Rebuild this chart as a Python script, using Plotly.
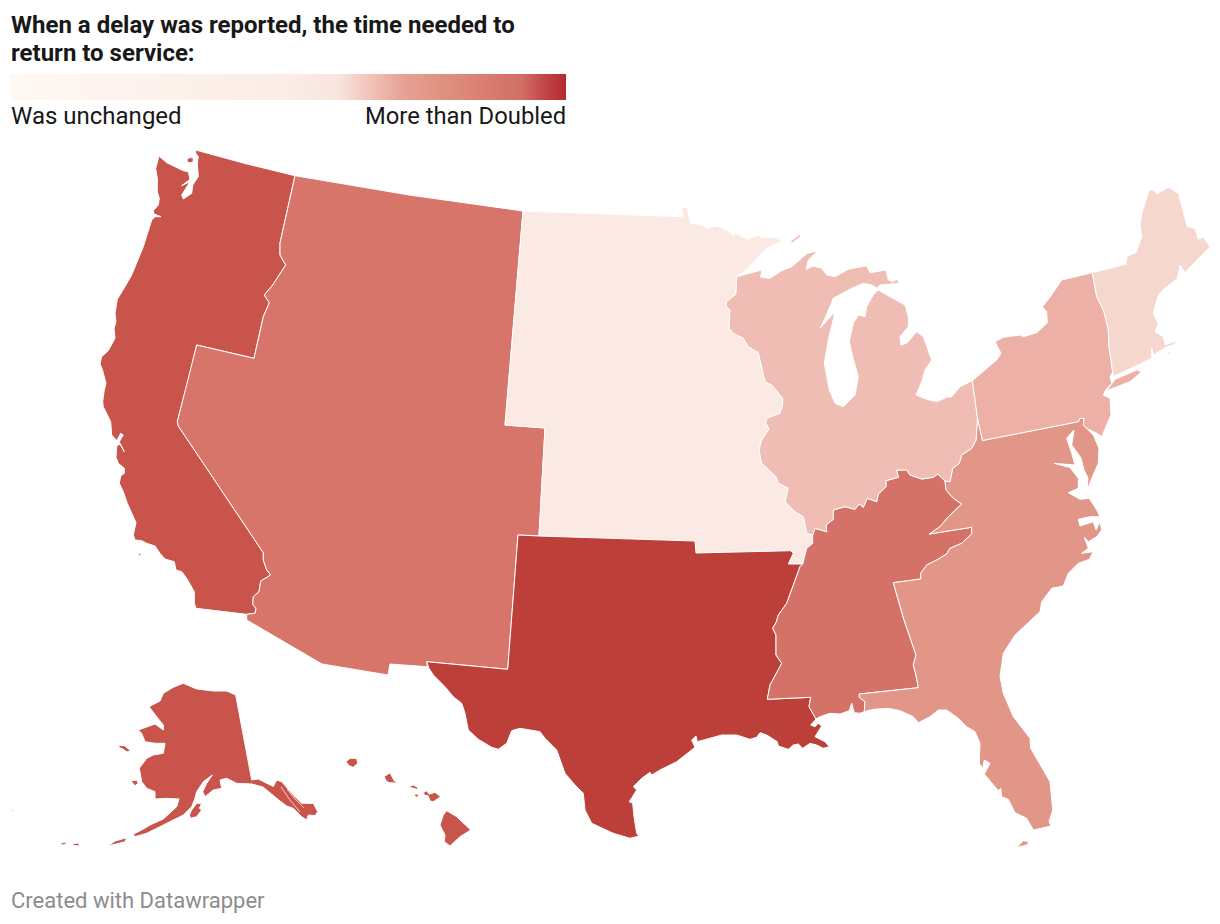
import plotly.graph_objects as go

# No topojson without network, so region outlines are traced by hand in page pixels.

# Shared borders, each read once and reused in both neighbours.
WA_NORTH = [(195.7, 150), (245, 163.5), (295, 175.7)]
MT_NORTH = [(295, 175.7), (409, 195), (523, 211)]
PAC_MTN = [(295, 175.7), (280, 243), (280, 255), (285.7, 265), (272.7, 285), (264.3, 295), (269.3, 302.7),
           (263.3, 316.7), (254, 358.3), (196.7, 345), (190.7, 370), (177.3, 421.7), (178.3, 426), (263.3, 552.7),
           (263.3, 560), (266.7, 570), (270.7, 575), (260.7, 581), (259, 591.7), (253.3, 596.7), (252.7, 604.3),
           (256, 608.3), (255, 613.3), (246.7, 614.3)]
MTN_WNC = [(523, 211), (505, 425), (545, 428), (539, 536)]
MTN_WSC = [(518, 535), (507.7, 669.3), (426.7, 661.7)]
MTN_SOUTH = [(427.3, 666.7), (390, 664), (388, 675), (322, 664), (246.7, 620), (246.7, 614.3)]
WNC_NORTH = [(523, 211), (682.3, 216.7), (682.3, 207.3), (687.3, 207.3), (690.7, 222.7), (705, 226), (706.7, 228.3),
             (716.7, 226), (725, 229.3), (731.7, 233.3), (733, 236), (735, 232.7), (748.3, 239.3), (758.3, 235),
             (761.7, 237.3), (773.3, 237.3), (782.7, 240.7), (766.7, 248.3), (758.3, 256.7), (748.3, 268.3),
             (736.7, 276.7)]
WNC_ENC = [(736.7, 276.7), (736, 294), (726.7, 301.7), (726, 306), (730, 310), (729, 328.3), (733.3, 333.3),
           (743.3, 338.3), (748.3, 346.7), (758.3, 352.7), (761.7, 368.3), (762.7, 371.7), (765, 381.7), (771.7, 385),
           (782.7, 398.3), (782.7, 405), (780, 413.3), (766.7, 418.3), (765.7, 422.7), (769, 429), (761.7, 440),
           (759, 450), (761.7, 463.3), (776, 476.7), (778.3, 483.3), (788.3, 488.3), (785, 501.7), (795, 511.7),
           (803.3, 516.7), (806.7, 533.3), (812.7, 535)]
WNC_WSC = [(802.7, 564), (788.3, 564), (793.3, 553.3), (790.7, 550.7), (696, 553), (695, 541), (539, 536), (518, 535)]
ESC_WNC = [(802.7, 564), (806.7, 548.3), (812.7, 543.3), (812.7, 535)]
ENC_ESC = [(812.7, 535), (815, 528.3), (826.7, 531.7), (826, 525), (833.3, 519.3), (833.3, 510), (845, 506.7),
           (855, 509.3), (859.3, 504), (863.3, 507.3), (867.3, 498.3), (876.7, 501.7), (878.3, 494), (886, 486.7),
           (886, 480.7), (898.3, 477.3), (896.7, 470), (906.7, 470), (910, 475), (921.7, 479), (933.3, 477.3),
           (937.7, 474), (945, 481)]
ENC_SA = [(945, 481), (950, 481.7), (952.7, 468.3), (959.3, 463.3), (961.7, 455), (971.7, 448.3), (976, 440)]
ESC_SA = [(945, 481), (946, 490), (953.3, 498.3), (961.7, 504), (948.3, 516.7), (940, 526.7), (929.3, 534),
          (971.7, 527.3), (971.7, 534), (961.7, 543.3), (950, 548.3), (946.7, 554), (936.7, 560), (926.7, 565),
          (920.7, 573.3), (920.7, 579), (893.3, 582.7), (904, 620), (916, 655), (913.3, 665), (916, 675),
          (918.3, 687.7), (859.3, 694), (859.3, 697.3), (865, 701.7), (864.3, 711.7)]
ESC_COAST = [(864.3, 711.7), (860, 713.3), (854.3, 712.7), (851.7, 703.3), (849.3, 710.7), (840, 714), (830, 713.3),
             (820, 716.7), (816, 719)]
ESC_WSC = [(816, 719), (809, 706.7), (810.7, 697.3), (767.3, 699.3), (770, 685), (781.7, 663.3), (776, 655), (776, 635),
           (772.7, 628.3), (776.3, 622), (778.3, 615), (786.7, 603.3), (791.7, 590), (796.7, 576.7), (800, 566.7),
           (802.7, 564)]
MA_SA = [(982.5, 440.5), (1078.3, 421.7), (1080, 418.3), (1084.3, 418.3), (1083.3, 425)]
MA_NE = [(1092.3, 272.7), (1096.7, 296.7), (1104, 311.7), (1108.3, 330), (1109, 346.7), (1112.7, 371.7), (1110, 376.7),
         (1111.7, 383.3)]
PANHANDLE = [(976, 440), (977.5, 418)]

# Coasts.
PAC_COAST = [(246.7, 614.3), (196, 608.3), (194.3, 603.3), (194.3, 591.7), (186.7, 578.3), (181.7, 571.7), (176, 570),
             (174.3, 561.7), (165, 559), (160, 553.3), (155, 546), (146.7, 543.3), (141.7, 540.7), (135, 540),
             (133.3, 535), (136, 522.7), (131.7, 513.3), (127.3, 503.3), (123.3, 491.7), (119.3, 483.3), (120.7, 476),
             (124.3, 473.3), (124.3, 468.3), (118.3, 463.3), (116, 457.3), (116.7, 446), (120, 444), (124.3, 451.7),
             (119.3, 441.7), (123.3, 435), (120.7, 433.3), (116.7, 440.7), (111.7, 435), (110.7, 421.7), (103.3, 406.7),
             (102.7, 401.7), (104, 391.7), (106, 383.3), (102.5, 370), (100, 364), (101.7, 356.7), (108.3, 350.7),
             (115, 338.3), (114, 328.3), (116, 321.7), (115, 313.3), (117.3, 299.3), (125, 286.7), (131.7, 275),
             (143.3, 246.7), (151.7, 220), (155, 216.7), (161, 216.7), (154, 214), (153.3, 210.7), (158.3, 205),
             (159.3, 198.3), (157.3, 191.7), (157.3, 178.3), (155.7, 168.3), (159, 156), (166.7, 162.7), (183.3, 170.7),
             (188.3, 171.7), (190, 179.3), (181.7, 185.7), (190, 181.7), (181.7, 195), (183.3, 199), (191.7, 193.3),
             (192.7, 185), (198.3, 176.7), (197.3, 163.3), (198.3, 156.7), (195.7, 153.3)]
SAN_JUAN = [(187, 159), (190, 157.5), (193.5, 158), (193, 162), (190, 163), (187, 161.5)]
CHANNEL_ISLAND = [(138.3, 553.3), (141.7, 553.3), (139.3, 556.7)]
WSC_COAST = [(426.7, 661.7), (429, 668.3), (433.3, 675), (445, 686.7), (453.3, 696.7), (461.7, 703.3), (465, 713.3),
             (468.3, 730), (478.3, 739.3), (491.7, 747.3), (498.3, 749.3), (506.7, 743.3), (511.7, 730.7), (520, 728.3),
             (540, 731.7), (545, 738.3), (556.7, 750), (565, 773.3), (575, 785), (583.3, 793.3), (585, 810),
             (591.7, 823.3), (603.3, 829), (613.3, 833.3), (630, 838.3), (639, 836), (636.7, 833.3), (634, 816.7),
             (632.7, 803.3), (629.3, 801.7), (636.7, 790), (633.3, 786.7), (641.7, 778.3), (650, 772.3), (651.7, 775),
             (660, 770), (676.7, 761.7), (686.7, 753.3), (695, 747.3), (691.7, 740), (696, 736), (697.3, 741.7),
             (706.7, 739), (721.7, 735), (736.7, 735), (750, 739.3), (756.7, 737.3), (760, 732.7), (766.7, 735),
             (777.3, 741.7), (778.3, 746), (788.3, 749.3), (793.3, 745), (798.3, 744), (802.7, 748.3), (810, 743.3),
             (816.7, 745), (823.3, 748.3), (829.3, 746.7), (825, 741.7), (815, 736.7), (821.7, 726), (818.3, 723.3),
             (815, 726.7), (810.7, 725), (816, 719)]
SA_COAST = [(1083.3, 425), (1093.3, 435), (1099, 448.3), (1098.3, 463.3), (1091.7, 478.3), (1087.3, 490), (1088, 478),
            (1084, 470), (1081, 458), (1076.5, 452), (1071.7, 445), (1074, 430), (1066.7, 438.3), (1071.7, 453.3),
            (1075, 465), (1054, 463.3), (1070, 467.5), (1078.3, 478.3), (1078.3, 488.3), (1068.3, 492.7), (1080, 499.3),
            (1089.3, 498.3), (1096.7, 510), (1100, 516.7), (1090, 516.7), (1078.3, 519.3), (1080, 526), (1093.3, 521.7),
            (1096, 530), (1100, 521.7), (1101.7, 530), (1096.7, 536.7), (1088.3, 541.7), (1084.3, 537.3),
            (1088.3, 548.3), (1081.7, 553.3), (1093.3, 551.7), (1089.3, 559.3), (1078.3, 563.3), (1068.3, 573.3),
            (1063.3, 586), (1051.7, 588.3), (1041.7, 601.7), (1040, 611.7), (1030, 621), (1015, 635), (1003.3, 653.3),
            (1001.7, 663.3), (1000, 676.7), (1003.3, 693.3), (1013.3, 716.7), (1030, 738.3), (1030.7, 748.3),
            (1050, 781.7), (1052.7, 810), (1049, 821.7), (1051, 826), (1033.3, 830), (1026.7, 818.3), (1015, 812.7),
            (1008.3, 799.3), (1001.7, 796.7), (1000.7, 788.3), (998.3, 790.7), (984.3, 774), (990, 763.3), (984.3, 760),
            (982.7, 768.3), (979.3, 763.3), (980, 743.3), (975, 731.7), (966.7, 726.7), (958.3, 718.3), (946.7, 710),
            (938.3, 710), (930, 716.7), (918.3, 722.7), (913.3, 716.7), (900, 710.7), (888.3, 708.3), (873.3, 709.3),
            (864.3, 711.7)]
FL_KEY = [(1016.7, 847.7), (1023.3, 840.7), (1029.3, 841.7), (1026.7, 845)]
ENC_COAST = [(736.7, 276.7), (750, 273.3), (761.7, 270), (760.7, 277.3), (770, 278.3), (781.7, 270.7), (791.7, 266.7),
             (807.3, 253.3), (817.7, 251), (808.3, 260), (806, 269.3), (813.3, 266), (821.7, 268.3), (826.7, 275),
             (835, 276.7), (848.3, 269.3), (866.7, 265.7), (870, 272.7), (886, 270), (888.3, 280), (892.7, 281.7),
             (896.7, 279.3), (899.3, 283.3), (880, 285), (877.3, 288.3), (871.7, 285), (863.3, 283.3), (851.7, 288.3),
             (840, 295), (833.3, 298.3), (825, 318.3), (820, 328.3), (835, 311.7), (828.3, 340), (824.3, 363.3),
             (829.3, 390), (835, 403.3), (843.3, 406.7), (855, 395), (858.3, 376.7), (852.7, 356.7), (849.3, 341.7),
             (853.3, 323.3), (858.3, 315), (865, 316.7), (866.7, 306.7), (873.3, 295), (878.3, 290), (890, 296.7),
             (905, 305), (908.3, 316.7), (908.3, 326.7), (900, 336.7), (900.7, 345), (906.7, 343.3), (916.7, 331.7),
             (923.3, 336.7), (931.7, 360), (925, 370), (921.7, 381.7), (916, 395), (926.7, 399.3), (936.7, 401.7),
             (946.7, 397.3), (951.7, 396.7), (960, 386.7), (972.3, 380.7)]
ISLE_ROYALE = [(790, 241.7), (800, 234), (801, 236), (792.7, 242.7)]
MA_SHORE = [(972.3, 380.7), (996.7, 360), (1001, 353.3), (995, 341.7), (1003.3, 337.3), (1020, 335), (1023.3, 336.7),
            (1036.7, 332.7), (1047.3, 322.7), (1046.7, 311.7), (1042.3, 306.7), (1050, 297.3), (1061.7, 280),
            (1092.3, 272.7)]
NJ_COAST = [(1111.7, 383.3), (1105.7, 390), (1103.3, 395), (1110, 398.3), (1111, 415), (1105, 428.3), (1101.7, 436.7),
            (1096.7, 433.3), (1086.7, 428.3), (1083.3, 425)]
LONG_ISLAND = [(1106.7, 390.7), (1115, 379.3), (1136.7, 370), (1141.7, 371.7), (1130, 381.7), (1116.7, 387.3)]
NE_COAST = [(1092.3, 272.7), (1125.7, 264.3), (1127.3, 256), (1136, 252.7), (1141.7, 236.7), (1140, 223.3),
            (1142.3, 211.7), (1149.3, 190), (1153.3, 190), (1156.7, 194), (1168.3, 187.3), (1178.3, 193.3),
            (1187.3, 226.7), (1195, 228.3), (1198.3, 239.3), (1203.3, 237.3), (1210, 246.7), (1203.3, 253.3),
            (1196.7, 260), (1190, 267.3), (1185, 272.7), (1180, 265), (1177.3, 278.3), (1166.7, 286.7), (1158.3, 295),
            (1153.3, 313.3), (1158.3, 323.3), (1155, 331.7), (1163.3, 336.7), (1165, 345), (1178.3, 340), (1173.3, 345),
            (1166.7, 346.7), (1153.3, 355), (1151.7, 348.3), (1151.7, 358.3), (1113.3, 376.7)]
NANTUCKET = [(1165, 353.3), (1171.7, 351.7), (1170, 355)]

# Alaska and Hawaii insets.
ALASKA = [(235.7, 695), (251.7, 780), (258.3, 779), (264, 782), (270, 785.5), (273.3, 786.5), (276.7, 780),
          (281.7, 781.7), (293.3, 795), (301.7, 803.3), (313.3, 803.3), (317.7, 811.7), (315, 815.7), (308.3, 815),
          (306.7, 820), (301.7, 816.7), (293.3, 808.3), (286.7, 806), (280, 801), (270, 793), (263, 787), (251.7, 784),
          (236.7, 783.3), (226.7, 778.3), (220, 780), (221.7, 788.3), (213.3, 790), (205, 796.7), (202.7, 791.7),
          (206.7, 783.3), (212.3, 775), (203.3, 781.7), (196.7, 791.7), (194.7, 799), (191.7, 806.7), (183.3, 815),
          (170, 821.7), (156.7, 827.7), (146.7, 833.3), (135, 836.7), (133.3, 834.3), (143.3, 829), (150, 825),
          (163.3, 819), (170, 813.3), (176.7, 806.7), (179, 799), (166.7, 798.3), (155, 799), (155, 791.7),
          (146.7, 788.3), (141.7, 781.7), (139.3, 768.3), (146.7, 758.3), (153.3, 755), (163.3, 753.3), (165, 743.3),
          (155, 743.3), (145, 741.7), (141.7, 733.3), (138.3, 730), (155, 724), (163.3, 730), (163.3, 725),
          (156.7, 716.7), (149, 706.7), (160, 701), (163.3, 693.3), (173.3, 687.3), (183.3, 683.3), (196.7, 689),
          (213.3, 691), (226.7, 691)]
KODIAK = [(189.3, 815), (191.7, 810), (196.7, 803.3), (201.7, 803.3), (199.3, 808.3), (201.7, 810), (196.7, 816.7),
          (190.7, 818.3)]
ST_LAWRENCE = [(119, 745), (125, 746), (130.7, 751), (127, 752), (122, 748.5), (119, 747.7)]
NUNIVAK = [(130.7, 781), (136.7, 780), (138.3, 783.3), (135, 785.7)]
ALEUTIAN_1 = [(108.3, 845.7), (115, 841), (126.7, 837.7), (125, 841.7), (115, 844.3)]
ALEUTIAN_2 = [(72, 843.5), (78, 843), (80, 846), (74, 845.5)]
ALEUTIAN_3 = [(61, 843), (66, 842), (66, 844.5), (61, 845)]
ALEUTIAN_4 = [(55, 840), (56.5, 841), (55, 842)]
ALEUTIAN_5 = [(42.5, 834), (44, 834.5), (42.5, 835)]
ALEUTIAN_6 = [(11, 808.3), (14, 811), (12.5, 811.5)]
KAUAI = [(346, 761.7), (350, 758.3), (356.7, 758.3), (357.7, 763.3), (353.3, 767.3), (349, 765.7)]
OAHU = [(384, 776.7), (390, 772.7), (394.3, 781), (398.3, 783.3), (390, 782.7), (386.7, 781.7)]
MOLOKAI = [(408.3, 786.7), (413.3, 785), (418.3, 787.7), (416.7, 789.3), (410, 787.3)]
LANAI = [(414.3, 794), (419.3, 794.3), (417.3, 797.3), (415, 796.7)]
MAUI = [(423.3, 792.7), (426.7, 790.7), (429.3, 794.3), (435, 792.3), (440.7, 796.7), (433.3, 801.7), (430, 801),
        (428.3, 796), (424.3, 795)]
BIG_ISLAND = [(443.3, 815), (446.7, 810.7), (456.7, 816.7), (470.7, 830), (460, 836.7), (450, 846), (444.3, 841.7),
              (445, 835), (440, 825)]

# Thin water features inside the filled regions.
CALCASIEU = [(758, 735), (762, 733.5), (767, 738), (763, 740)]
PADRE_LAGOON = [(636.7, 825), (634.5, 810), (637, 793.3), (650, 777)]
PANHANDLE_CHANNEL_1 = [(281, 787), (290, 800), (300, 812)]
PANHANDLE_CHANNEL_2 = [(287, 789), (295, 799), (304, 808)]

regions = ["Pacific", "Mountain", "West North Central", "West South Central", "East South Central",
           "South Atlantic", "East North Central", "Middle Atlantic", "New England"]
region_colors = ["#c8544b", "#d7756a", "#fbeae4", "#bd3f39", "#d57267", "#e29688", "#efbdb4", "#edb0a6", "#f6d7ce"]
region_polys = [
    [WA_NORTH + PAC_MTN + PAC_COAST, SAN_JUAN, CHANNEL_ISLAND, ALASKA, KODIAK, ST_LAWRENCE, NUNIVAK, ALEUTIAN_1,
     ALEUTIAN_2, ALEUTIAN_3, ALEUTIAN_4, ALEUTIAN_5, ALEUTIAN_6, KAUAI, OAHU, MOLOKAI, LANAI, MAUI, BIG_ISLAND],
    [MT_NORTH + MTN_WNC + MTN_WSC + MTN_SOUTH + PAC_MTN[::-1]],
    [WNC_NORTH + WNC_ENC + ESC_WNC[::-1] + WNC_WSC[:-1] + MTN_WNC[::-1]],
    [WNC_WSC + MTN_WSC + WSC_COAST + ESC_WSC],
    [ENC_ESC + ESC_SA + ESC_COAST + ESC_WSC + ESC_WNC],
    [ENC_SA + PANHANDLE[1:] + MA_SA + SA_COAST + ESC_SA[::-1], FL_KEY],
    [ENC_COAST + PANHANDLE[::-1] + ENC_SA[::-1] + ENC_ESC[::-1] + WNC_ENC[::-1], ISLE_ROYALE],
    [MA_SHORE + MA_NE + NJ_COAST + MA_SA[::-1] + PANHANDLE[1:] + MA_SHORE[:1], LONG_ISLAND],
    [NE_COAST + MA_NE[:6][::-1], NANTUCKET],
]

# Legend ramp.
ramp_stops = [0, 0.5, 0.59, 0.655, 0.71, 0.76, 0.85, 0.92, 0.96, 1]
ramp_colors = ["#fff8f3", "#fbece6", "#f8e5de", "#efbfb4", "#e5a193", "#e19685", "#da7f72", "#d26f64", "#c2484a",
               "#b22a2e"]

title_lines = ["When a delay was reported, the time needed to", "return to service:"]
legend_low = "Was unchanged"
legend_high = "More than Doubled"
credit = "Created with Datawrapper"

W, H = 1220, 924
BODY = 8  # the page body margin pushes the figure this far in
FONT = "Roboto, sans-serif"


def poly_xy(polys):
    xs, ys = [], []
    for poly in polys:
        xs += [p[0] for p in poly] + [poly[0][0], None]
        ys += [p[1] for p in poly] + [poly[0][1], None]
    return xs, ys


fig = go.Figure()

for name, color, polys in zip(regions, region_colors, region_polys):
    x, y = poly_xy(polys)
    fig.add_trace(go.Scatter(x=x, y=y, mode="lines", fill="toself", fillcolor=color, name=name,
                             line=dict(color="white", width=1), hoverinfo="name", showlegend=False))

x, y = poly_xy([CALCASIEU])
fig.add_trace(go.Scatter(x=x, y=y, mode="lines", fill="toself", fillcolor="white", line=dict(color="white", width=0.5),
                         hoverinfo="skip", showlegend=False))
for channel in [PADRE_LAGOON, PANHANDLE_CHANNEL_1, PANHANDLE_CHANNEL_2]:
    fig.add_trace(go.Scatter(x=[p[0] for p in channel], y=[p[1] for p in channel], mode="lines",
                             line=dict(color="white", width=0.7), hoverinfo="skip", showlegend=False))

# Invisible trace that only carries the legend colour bar.
fig.add_trace(go.Scatter(
    x=[-50, -50], y=[-50, -50], mode="markers", hoverinfo="skip", showlegend=False,
    marker=dict(color=[0, 1], cmin=0, cmax=1, colorscale=[[s, c] for s, c in zip(ramp_stops, ramp_colors)],
                showscale=True,
                colorbar=dict(orientation="h", thickness=26, thicknessmode="pixels", len=556, lenmode="pixels",
                              x=(10 - BODY) / (W - BODY), xanchor="left", y=1 - (74 - BODY) / (H - BODY), yanchor="top",
                              xpad=0, ypad=0, outlinewidth=0, ticks="", showticklabels=False)),
))

texts = [
    dict(x=9.5, y=25, text=title_lines[0], xanchor="left", font=dict(size=24, color="#181818", family=FONT, weight=700)),
    dict(x=9.5, y=53, text=title_lines[1], xanchor="left", font=dict(size=24, color="#181818", family=FONT, weight=700)),
    dict(x=9.5, y=116, text=legend_low, xanchor="left", font=dict(size=24, color="#181818", family=FONT)),
    dict(x=566.5, y=116, text=legend_high, xanchor="right", font=dict(size=23.8, color="#181818", family=FONT)),
    dict(x=9.5, y=900, text=credit, xanchor="left", font=dict(size=22, color="#8c8c8c", family=FONT)),
]
for t in texts:
    fig.add_annotation(xref="x", yref="y", yanchor="middle", showarrow=False, borderpad=0, **t)

fig.update_xaxes(range=[BODY, W], visible=False, fixedrange=True)
fig.update_yaxes(range=[H, BODY], visible=False, fixedrange=True)
fig.update_layout(width=W - BODY, height=H - BODY, margin=dict(l=0, r=0, t=0, b=0), plot_bgcolor="white",
                  paper_bgcolor="white")

fig.write_html("out.html", config=dict(displayModeBar=False))
